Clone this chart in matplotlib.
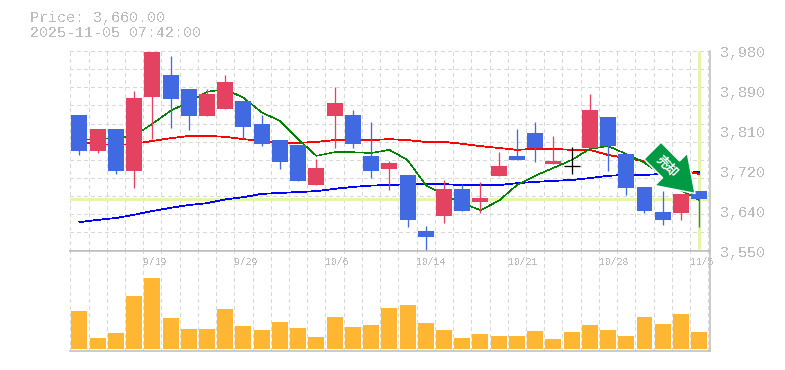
import matplotlib
matplotlib.use("Agg")
import matplotlib.pyplot as plt
import numpy as np

dates = ["9/19", "9/29", "10/6", "10/14", "10/21", "10/28", "11/5"]
date_pos = [4, 9, 14, 19, 24, 29, 34]
price_ticks = [3550, 3636, 3722, 3808, 3894, 3980]
price_labels = ["3,550", "3,640", "3,720", "3,810", "3,890", "3,980"]
last_price = 3660

opens = [3842, 3764, 3812, 3721, 3881, 3928, 3898, 3840, 3855, 3872, 3823, 3788,
         3777, 3691, 3840, 3842, 3754, 3726, 3713, 3592, 3624, 3683, 3654, 3711,
         3754, 3803, 3736, 3732, 3771, 3838, 3758, 3687, 3633, 3631, 3678]
highs = [3842, 3812, 3812, 3894, 3978, 3969, 3898, 3898, 3928, 3872, 3842, 3788,
         3777, 3747, 3902, 3853, 3827, 3743, 3713, 3603, 3702, 3693, 3698, 3762,
         3812, 3827, 3797, 3773, 3887, 3838, 3758, 3687, 3678, 3672, 3678]
lows = [3756, 3760, 3715, 3685, 3790, 3814, 3810, 3840, 3855, 3790, 3775, 3726,
        3700, 3691, 3771, 3771, 3706, 3680, 3601, 3551, 3609, 3635, 3631, 3711,
        3745, 3741, 3736, 3715, 3771, 3721, 3670, 3631, 3605, 3616, 3601]
closes = [3764, 3812, 3721, 3879, 3978, 3876, 3840, 3887, 3913, 3816, 3780, 3741,
          3700, 3728, 3868, 3780, 3721, 3739, 3616, 3579, 3683, 3635, 3663, 3732,
          3745, 3771, 3743, 3732, 3853, 3775, 3685, 3635, 3616, 3672, 3660]

ma_short = [3788, 3790, 3792, 3797, 3823, 3851, 3870, 3892, 3898, 3879, 3848, 3829,
            3790, 3754, 3762, 3762, 3760, 3767, 3745, 3691, 3670, 3652, 3637, 3657,
            3691, 3711, 3728, 3745, 3769, 3775, 3758, 3739, 3713, 3680, 3659]
ma_mid = [3782, 3780, 3777, 3780, 3786, 3792, 3797, 3797, 3795, 3790, 3786, 3782,
          3782, 3784, 3788, 3788, 3788, 3790, 3788, 3784, 3784, 3780, 3775, 3771,
          3767, 3769, 3769, 3767, 3767, 3756, 3749, 3743, 3734, 3723, 3715]
ma_long = [3611, 3616, 3620, 3627, 3635, 3642, 3648, 3652, 3660, 3665, 3672, 3674,
           3676, 3678, 3683, 3687, 3690, 3691, 3693, 3693, 3693, 3691, 3691, 3691,
           3695, 3698, 3700, 3702, 3706, 3711, 3713, 3713, 3715, 3717, 3719]
volumes = [38, 11, 16, 53, 71, 31, 20, 20, 40, 23, 19, 27, 21, 12, 32, 22, 24, 41,
           44, 26, 19, 11, 15, 13, 13, 18, 10, 17, 24, 19, 13, 32, 25, 35, 17]

RED = "#e34260"
BLUE = "#4169e1"
GRAY = "#bcbcbc"
GRID = "#d8d8d8"
PALE = "#e4f5aa"
ORANGE = "#ffb733"
W, H = 785, 370
PX = 0.72  # one pixel in points at dpi 100

plt.rcParams["font.family"] = ["Liberation Mono", "DejaVu Sans Mono"]
plt.rcParams["text.antialiased"] = False

fig = plt.figure(figsize=(W / 100, H / 100), dpi=100)
ax = fig.add_axes([70.3 / W, 1 - 250.5 / H, 640 / W, 199.5 / H])
ax_vol = fig.add_axes([70.3 / W, 1 - 350.5 / H, 640 / W, 100 / H])

x = np.arange(len(opens))
xlim = (-0.5, 34.61)
cell_edges = np.arange(-0.5, 35)

ax.set_xlim(xlim)
ax.set_ylim(3550, 3980)
ax_vol.set_xlim(xlim)
ax_vol.set_ylim(-2, 98)

for a in (ax, ax_vol):
    a.set_xticks(cell_edges)
    a.tick_params(axis="x", length=0, labelbottom=False)
    a.grid(True, axis="x", color=GRID, lw=PX, linestyle=(0, (3, 3)), antialiased=False, zorder=0)
    a.set_axisbelow(True)
    a.spines["top"].set_visible(False)
    a.spines["left"].set_visible(False)
    for side in ("right", "bottom"):
        a.spines[side].set_color(GRAY)
        a.spines[side].set_linewidth(1.5 * PX)

ax_vol.spines["top"].set_visible(True)
ax_vol.spines["top"].set_color(GRAY)
ax_vol.spines["top"].set_linewidth(1.5 * PX)
ax_vol.set_yticks([])

# horizontal grid has its own spacing, the labels are separate
ax.set_yticks(price_ticks)
ax.set_yticklabels([])
ax.tick_params(axis="y", length=0)
for y in np.linspace(3550, 3980, 12):
    ax.axhline(y, color=GRID, lw=PX, linestyle=(0, (3, 3)), antialiased=False, zorder=0.5)
for val, lab in zip(price_ticks, price_labels):
    ax.annotate(lab, xy=(1, val), xycoords=("axes fraction", "data"), xytext=(7, -2 * PX),
                textcoords="offset points", ha="left", va="center", color=GRAY, fontsize=10.8)

ax.axhline(last_price, color=PALE, lw=3 * PX, zorder=1)
ax.vlines(x[-1], 3554, 3980, color=PALE, lw=3 * PX, zorder=1)

ax.plot(x, ma_long, color="#0000ff", lw=0.75 * PX, antialiased=False, zorder=2)
ax.plot(x, ma_mid, color="#ff0000", lw=0.75 * PX, antialiased=False, zorder=2)
ax.plot(x, ma_short, color="#008000", lw=0.5 * PX, antialiased=False, zorder=2)

for i in x:
    o, h, l, c = opens[i], highs[i], lows[i], closes[i]
    col = "black" if o == c else (RED if c > o else BLUE)
    ax.vlines(i, l, h, color=col, lw=1.3 * PX, zorder=3)
    if o == c:
        ax.hlines(o, i - 0.44, i + 0.44, color=col, lw=1.3 * PX, zorder=3)
    else:
        ax.bar(i, abs(c - o), bottom=min(o, c), width=0.877, color=col, antialiased=False, zorder=4)

ax_vol.bar(x, volumes, width=0.877, color=ORANGE, antialiased=False, zorder=2)

for pos, lab in zip(date_pos, dates):
    ax_vol.annotate(lab, xy=(pos - 0.5, 1), xycoords=("data", "axes fraction"), xytext=(0, -11.5 * PX),
                    textcoords="offset points", ha="left", va="center", color=GRAY, fontsize=7,
                    annotation_clip=False)

# sell arrow
ax.annotate("", xy=(33.77, 3673), xytext=(-30.6, 30.8), textcoords="offset points",
            arrowprops=dict(width=24 * PX, headwidth=46 * PX, headlength=34 * PX,
                            facecolor="#009944", edgecolor="white", linewidth=1.5 * PX),
            zorder=6, annotation_clip=False)
ax.text(32.2, 3731, "売却", rotation=-45, rotation_mode="anchor", ha="center", va="center",
        color="white", fontsize=9, fontweight="bold", antialiased=True,
        family=["Noto Sans CJK JP", "DejaVu Sans"], zorder=7)

fig.text(30 / W, 1 - 18 / H, "Price: 3,660.00", color=GRAY, fontsize=10.8, ha="left", va="center")
fig.text(30 / W, 1 - 33 / H, "2025-11-05 07:42:00", color=GRAY, fontsize=10.8, ha="left", va="center")

fig.savefig("out.png", dpi=100)
